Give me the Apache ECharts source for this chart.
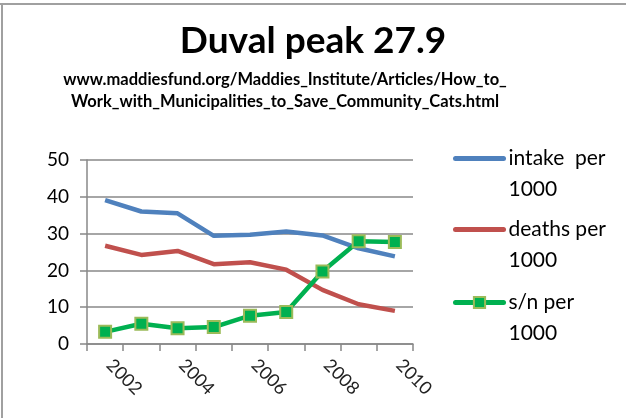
<!DOCTYPE html>
<html>
<head>
<meta charset="utf-8">
<script src="https://cdn.jsdelivr.net/npm/echarts@6/dist/echarts.min.js"></script>
<style>
  html, body { margin: 0; padding: 0; background: #fff; }
  #main { width: 626px; height: 418px; }
</style>
</head>
<body>
<div id="main"></div>
<script>
var years = ['2002', '2003', '2004', '2005', '2006', '2007', '2008', '2009', '2010'];
var intake = [39.1, 36.0, 35.5, 29.4, 29.7, 30.6, 29.5, 26.0, 23.8];
var deaths = [26.7, 24.2, 25.3, 21.7, 22.2, 20.2, 14.7, 10.8, 9.0];
var sn = [3.3, 5.5, 4.3, 4.6, 7.7, 8.7, 19.7, 27.9, 27.7];
var seriesNames = ['intake  per\n1000', 'deaths per\n1000', 's/n per\n1000'];
var seriesColors = ['#4F81BD', '#C0504D', '#00B050'];

var font = 'Lato, "Open Sans", sans-serif';
var chart = echarts.init(document.getElementById('main'));

// one legend block per series, so each can sit where the reference has it
var legendTops = [112, 183, 256];
var legends = seriesNames.map(function (name, i) {
  return {
    orient: 'vertical',
    left: 453,
    top: legendTops[i],
    padding: 0,
    itemWidth: 48,
    itemHeight: 14,
    data: [{
      name: name,
      itemStyle: i < 2 ? { opacity: 0 } : undefined
    }],
    lineStyle: { width: 5, cap: 'round' },
    formatter: function (n) { return '\n' + n; },
    textStyle: { fontFamily: font, fontSize: 21, lineHeight: 31, color: '#000' }
  };
});

var option = {
  animation: false,
  backgroundColor: '#fff',
  title: {
    text: 'Duval peak 27.9',
    left: 'center',
    top: 18,
    textStyle: { fontFamily: font, fontSize: 37, fontWeight: 'bold', color: '#000' }
  },
  graphic: [
    { type: 'line', shape: { x1: 0, y1: 4, x2: 626, y2: 4 }, style: { stroke: '#a0a0a0', lineWidth: 2 } },
    { type: 'line', shape: { x1: 2, y1: 4, x2: 2, y2: 418 }, style: { stroke: '#a0a0a0', lineWidth: 2 } },
    {
      type: 'text',
      x: 285,
      y: 91,
      style: {
        text: 'www.maddiesfund.org/Maddies_Institute/Articles/How_to_\nWork_with_Municipalities_to_Save_Community_Cats.html',
        align: 'center',
        verticalAlign: 'middle',
        font: 'bold 16.5px ' + font,
        lineHeight: 22,
        fill: '#000'
      }
    }
  ],
  legend: legends,
  grid: { left: 87, right: 213, top: 160, bottom: 74 },
  xAxis: {
    type: 'category',
    data: years,
    boundaryGap: true,
    axisLine: { lineStyle: { color: '#888', width: 1.5 } },
    axisTick: { show: true, interval: 0, length: 7, lineStyle: { color: '#888', width: 1.5 } },
    axisLabel: {
      interval: 1,
      rotate: -45,
      margin: 14,
      padding: [0, 0, 0, 6],
      fontFamily: font,
      fontSize: 18,
      color: '#222'
    }
  },
  yAxis: {
    type: 'value',
    min: 0,
    max: 50,
    interval: 10,
    axisLine: { show: true, lineStyle: { color: '#888', width: 1.5 } },
    axisTick: { show: true, length: 7, lineStyle: { color: '#888', width: 1.5 } },
    axisLabel: { margin: 18, fontFamily: font, fontSize: 19, color: '#000' },
    splitLine: { lineStyle: { color: '#888', width: 1.5 } }
  },
  series: [{
    name: seriesNames[0],
    type: 'line',
    data: intake,
    symbol: 'none',
    lineStyle: { color: seriesColors[0], width: 4.5 },
    itemStyle: { color: seriesColors[0] }
  }, {
    name: seriesNames[1],
    type: 'line',
    data: deaths,
    symbol: 'none',
    lineStyle: { color: seriesColors[1], width: 4.5 },
    itemStyle: { color: seriesColors[1] }
  }, {
    name: seriesNames[2],
    type: 'line',
    data: sn,
    symbol: 'rect',
    symbolSize: 12,
    lineStyle: { color: seriesColors[2], width: 4.5 },
    itemStyle: { color: seriesColors[2], borderColor: '#9BBB59', borderWidth: 2 }
  }]
};

chart.setOption(option);
</script>
</body>
</html>
